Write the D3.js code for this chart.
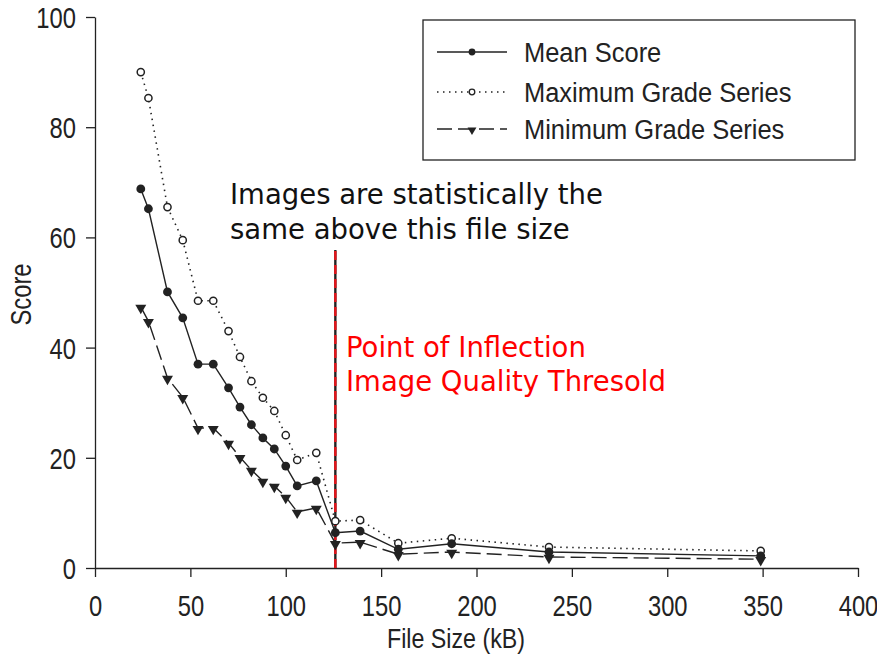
<!DOCTYPE html>
<html>
<head>
<meta charset="utf-8">
<script src="https://cdn.jsdelivr.net/npm/d3@7"></script>
<style>
  body { margin: 0; background: #fff; }
  svg { display: block; }
  .axis text { font-family: "Liberation Sans", Arial, sans-serif; font-size: 29px; fill: #222; }
  .axis path, .axis line { stroke: #222; stroke-width: 1.3; }
  .sans { font-family: "Liberation Sans", Arial, sans-serif; fill: #222; }
</style>
</head>
<body>
<svg id="chart" width="877" height="655"></svg>
<script>
// File sizes (kB) at which each image set was graded
const fileSizes = [24, 28, 38, 46, 54, 62, 70, 76, 82, 88, 94, 100, 106, 116, 126, 139, 159, 187, 238, 349];
// Mean score per file size
const meanScore = [68.8, 65.2, 50.1, 45.4, 37.0, 37.0, 32.7, 29.2, 26.0, 23.6, 21.6, 18.5, 14.9, 15.8, 6.4, 6.7, 3.4, 4.4, 2.9, 2.2];
// Maximum grade per file size
const maxGrade = [90.0, 85.3, 65.5, 59.5, 48.5, 48.5, 43.0, 38.3, 33.9, 30.9, 28.5, 24.1, 19.6, 20.9, 8.5, 8.7, 4.5, 5.4, 3.8, 3.1];
// Minimum grade per file size
const minGrade = [47.4, 44.8, 34.5, 31.0, 25.4, 25.4, 22.7, 20.1, 17.8, 15.8, 14.9, 12.9, 10.2, 10.9, 4.5, 4.7, 2.5, 2.9, 2.0, 1.6];

const xTicks = [0, 50, 100, 150, 200, 250, 300, 350, 400];
const yTicks = [0, 20, 40, 60, 80, 100];
const thresholdSize = 126;
const seriesNames = ["Mean Score", "Maximum Grade Series", "Minimum Grade Series"];

const svg = d3.select("#chart");
const narrow = 0.82; // horizontal squeeze for the condensed sans labels

const x = d3.scaleLinear().domain([0, 400]).range([95, 858]);
const y = d3.scaleLinear().domain([0, 100]).range([568, 17]);

// Squeeze a text element horizontally around its own anchor point
function condense(sel, sx) {
  sel.each(function () {
    const t = d3.select(this);
    const tx = +t.attr("x") || 0, ty = +t.attr("y") || 0;
    t.attr("x", 0).attr("y", 0)
     .attr("transform", `translate(${tx},${ty}) scale(${sx},1)`);
  });
}

// Axes
svg.append("g").attr("class", "axis")
  .attr("transform", `translate(0,${y(0)})`)
  .call(d3.axisBottom(x).tickValues(xTicks).tickSize(9).tickSizeOuter(0).tickPadding(18))
  .call(g => g.selectAll("text").attr("dy", "0.71em").call(condense, narrow));

svg.append("g").attr("class", "axis")
  .attr("transform", `translate(${x(0)},0)`)
  .call(d3.axisLeft(y).tickValues(yTicks).tickSize(9).tickSizeOuter(0).tickPadding(10))
  .call(g => g.selectAll("text").attr("dy", "0.36em").call(condense, narrow));

// Axis titles
svg.append("text").attr("class", "sans")
  .attr("text-anchor", "middle").style("font-size", "27px")
  .attr("transform", `translate(456,648) scale(0.86,1)`)
  .text("File Size (kB)");

svg.append("text").attr("class", "sans")
  .attr("text-anchor", "middle").style("font-size", "29px")
  .attr("transform", `translate(31,${y(50) + 2}) rotate(-90) scale(${narrow},1)`)
  .text("Score");

// Series
const lineGen = vals => d3.line().x((d, i) => x(fileSizes[i])).y(d => y(d))(vals);

svg.append("path").attr("d", lineGen(maxGrade))
  .attr("fill", "none").attr("stroke", "#222").attr("stroke-width", 1.6)
  .attr("stroke-dasharray", "1.5,4.5");

svg.append("path").attr("d", lineGen(minGrade))
  .attr("fill", "none").attr("stroke", "#222").attr("stroke-width", 1.4)
  .attr("stroke-dasharray", "15,6");

svg.append("path").attr("d", lineGen(meanScore))
  .attr("fill", "none").attr("stroke", "#222").attr("stroke-width", 1.4);

// Threshold marker: alternating red / black dashes
svg.append("line")
  .attr("x1", x(thresholdSize)).attr("x2", x(thresholdSize))
  .attr("y1", y(0)).attr("y2", 250)
  .attr("stroke", "#222").attr("stroke-width", 2.4);
svg.append("line")
  .attr("x1", x(thresholdSize)).attr("x2", x(thresholdSize))
  .attr("y1", y(0)).attr("y2", 250)
  .attr("stroke", "#e8141a").attr("stroke-width", 2.4)
  .attr("stroke-dasharray", "9,5");

// Markers
const triangle = d3.symbol().type(d3.symbolTriangle).size(52);

svg.append("g").selectAll("path").data(minGrade).join("path")
  .attr("d", triangle)
  .attr("transform", (d, i) => `translate(${x(fileSizes[i])},${y(d) + 1}) rotate(180)`)
  .attr("fill", "#222");

svg.append("g").selectAll("circle").data(maxGrade).join("circle")
  .attr("cx", (d, i) => x(fileSizes[i])).attr("cy", d => y(d))
  .attr("r", 3.6).attr("fill", "#fff").attr("stroke", "#222").attr("stroke-width", 1.5);

svg.append("g").selectAll("circle").data(meanScore).join("circle")
  .attr("cx", (d, i) => x(fileSizes[i])).attr("cy", d => y(d))
  .attr("r", 4.4).attr("fill", "#222");

// Annotations
const note = svg.append("text")
  .style("font-family", "DejaVu Sans, sans-serif").style("font-size", "27.5px").style("fill", "#111");
note.append("tspan").attr("x", 230).attr("y", 204).text("Images are statistically the");
note.append("tspan").attr("x", 230).attr("y", 239).text("same above this file size");

const red = svg.append("text")
  .style("font-family", "DejaVu Sans, sans-serif").style("font-size", "27.5px").style("fill", "#f00");
red.append("tspan").attr("x", 346).attr("y", 357).text("Point of Inflection");
red.append("tspan").attr("x", 346).attr("y", 391).text("Image Quality Thresold");

// Legend
const lg = svg.append("g");
lg.append("rect").attr("x", 423).attr("y", 20).attr("width", 432).attr("height", 140)
  .attr("fill", "#fff").attr("stroke", "#222").attr("stroke-width", 1.3);

const legendRows = [
  { name: seriesNames[0], y: 52, dash: null, w: 1.4, mark: "filled" },
  { name: seriesNames[1], y: 92, dash: "1.5,4.5", w: 1.6, mark: "open" },
  { name: seriesNames[2], y: 129, dash: "15,6", w: 1.4, mark: "tri" }
];
legendRows.forEach(r => {
  lg.append("line").attr("x1", 437).attr("x2", 507).attr("y1", r.y).attr("y2", r.y)
    .attr("stroke", "#222").attr("stroke-width", r.w)
    .attr("stroke-dasharray", r.dash);
  if (r.mark === "filled") {
    lg.append("circle").attr("cx", 472).attr("cy", r.y).attr("r", 3.4).attr("fill", "#222");
  } else if (r.mark === "open") {
    lg.append("circle").attr("cx", 472).attr("cy", r.y).attr("r", 2.8)
      .attr("fill", "#fff").attr("stroke", "#222").attr("stroke-width", 1.3);
  } else {
    lg.append("path").attr("d", d3.symbol().type(d3.symbolTriangle).size(34))
      .attr("transform", `translate(472,${r.y + 1}) rotate(180)`).attr("fill", "#222");
  }
  lg.append("text").attr("class", "sans").style("font-size", "28px")
    .attr("dy", "0.36em")
    .attr("transform", `translate(524,${r.y}) scale(0.91,1)`)
    .text(r.name);
});
</script>
</body>
</html>
